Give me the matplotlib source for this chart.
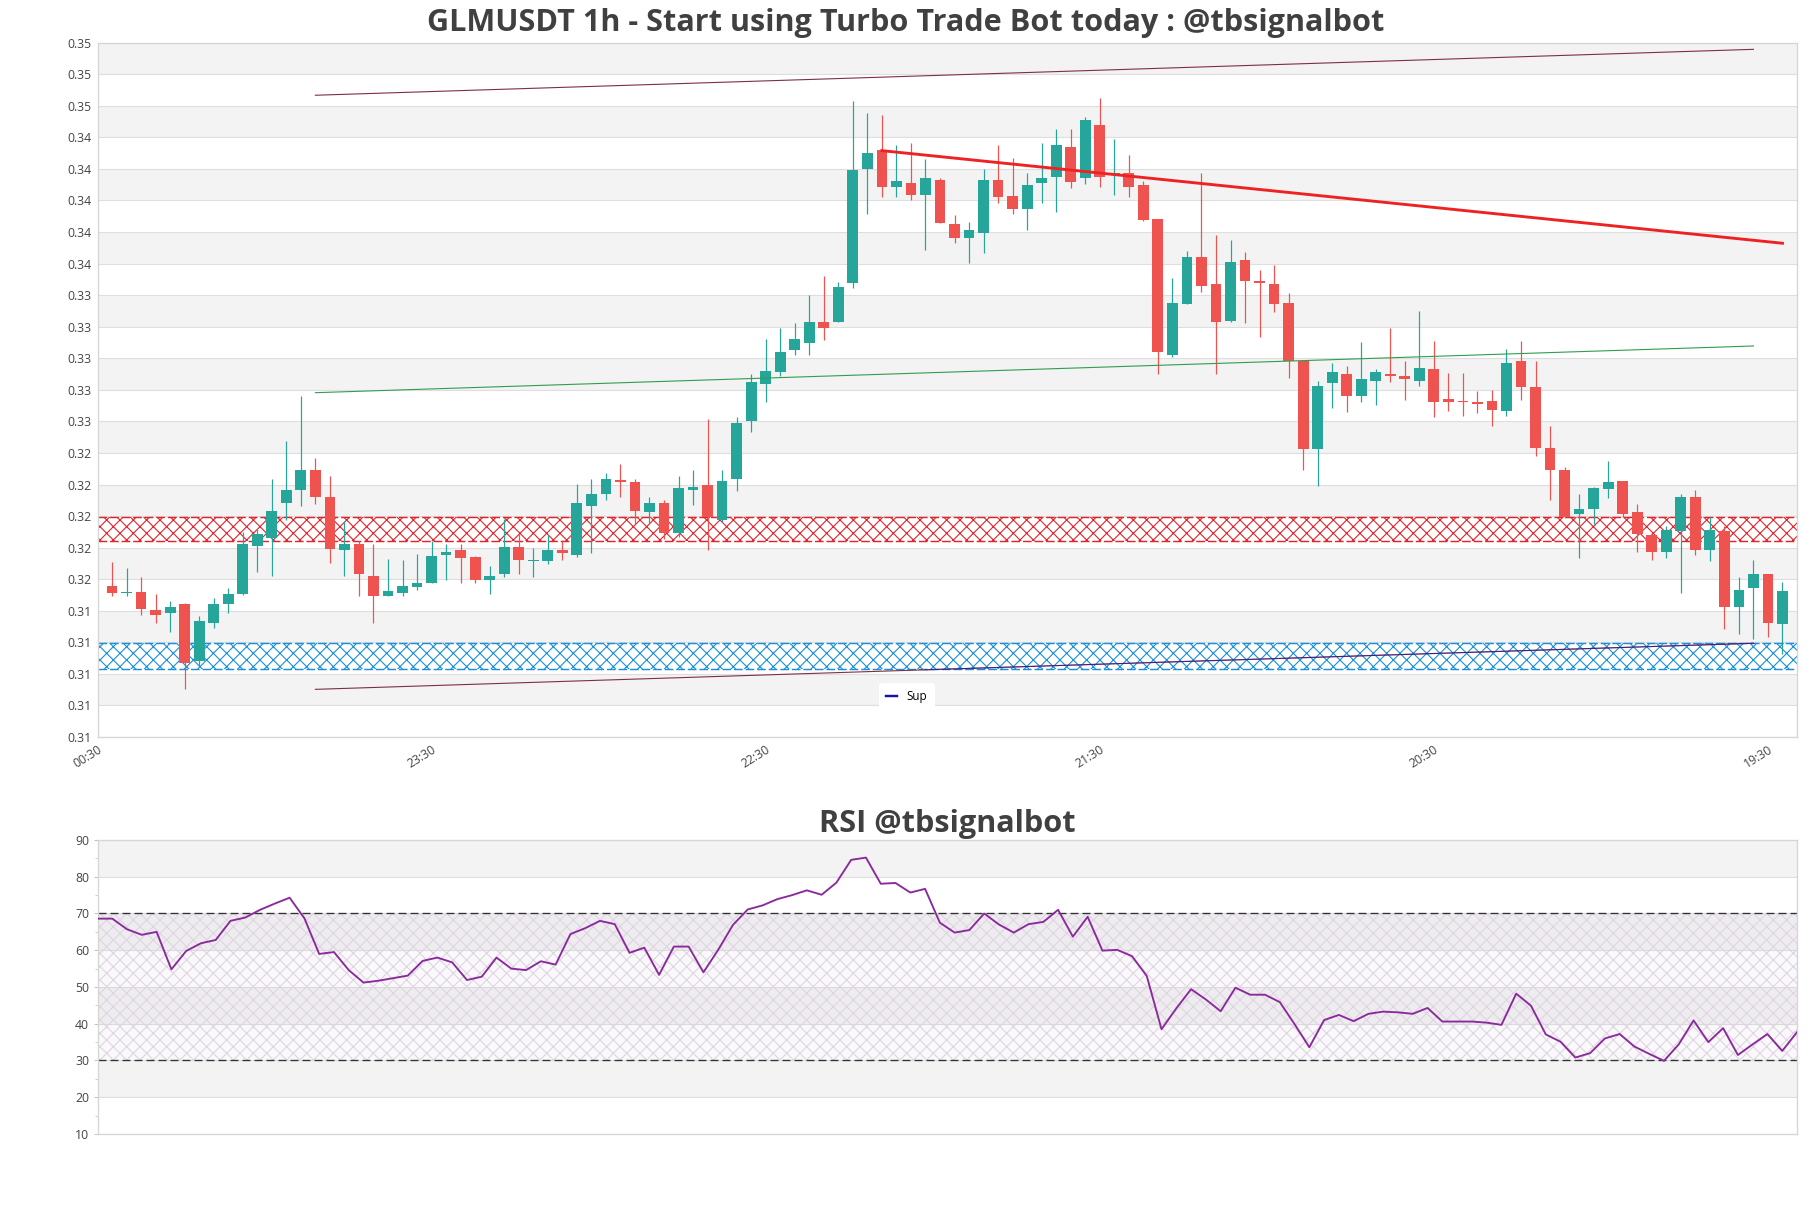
import matplotlib
matplotlib.use("Agg")
import matplotlib.pyplot as plt
from matplotlib.lines import Line2D
import numpy as np

plt.rcParams['font.family'] = ['Open Sans', 'DejaVu Sans']

# ---------------- data ----------------
opens = [0.31554, 0.31512, 0.31516, 0.31406, 0.31385, 0.31446, 0.31081, 0.31321, 0.31442, 0.31505,
         0.31809, 0.31860, 0.32082, 0.32164, 0.32295, 0.32124, 0.31784, 0.31826, 0.31623, 0.31493,
         0.31512, 0.31550, 0.31575, 0.31752, 0.31786, 0.31738, 0.31594, 0.31632, 0.31807, 0.31714,
         0.31714, 0.31788, 0.31752, 0.32063, 0.32137, 0.32226, 0.32219, 0.32025, 0.32080, 0.31892,
         0.32166, 0.32194, 0.31976, 0.32234, 0.32602, 0.32840, 0.32916, 0.33051, 0.33100, 0.33231,
         0.33227, 0.33480, 0.34198, 0.34317, 0.34088, 0.34112, 0.34038, 0.34131, 0.33852, 0.33765,
         0.33797, 0.34131, 0.34029, 0.33949, 0.34110, 0.34148, 0.34338, 0.34141, 0.34479, 0.34160,
         0.34173, 0.34099, 0.33881, 0.33022, 0.33347, 0.33643, 0.33472, 0.33239, 0.33624, 0.33491,
         0.33472, 0.33351, 0.32986, 0.32426, 0.32842, 0.32901, 0.32758, 0.32859, 0.32901, 0.32889,
         0.32859, 0.32933, 0.32741, 0.32730, 0.32724, 0.32728, 0.32669, 0.32984, 0.32817, 0.32434,
         0.32289, 0.32012, 0.32044, 0.32171, 0.32225, 0.32027, 0.31877, 0.31771, 0.31904, 0.32124,
         0.31782, 0.31907, 0.31423, 0.31543, 0.31636, 0.31315]
highs = [0.31706, 0.31672, 0.31617, 0.31507, 0.31465, 0.31450, 0.31364, 0.31482, 0.31545, 0.31898,
         0.31917, 0.32238, 0.32479, 0.32764, 0.32365, 0.32257, 0.31966, 0.31839, 0.31826, 0.31725,
         0.31719, 0.31757, 0.31839, 0.31826, 0.31826, 0.31744, 0.31685, 0.31983, 0.31888, 0.31795,
         0.31877, 0.31849, 0.32206, 0.32238, 0.32270, 0.32327, 0.32236, 0.32118, 0.32099, 0.32257,
         0.32295, 0.32616, 0.32289, 0.32627, 0.32899, 0.33121, 0.33195, 0.33225, 0.33400, 0.33522,
         0.33482, 0.34631, 0.34557, 0.34543, 0.34352, 0.34365, 0.34264, 0.34143, 0.33909, 0.33862,
         0.34198, 0.34352, 0.34268, 0.34177, 0.34363, 0.34452, 0.34452, 0.34528, 0.34648, 0.34390,
         0.34289, 0.34126, 0.33881, 0.33508, 0.33681, 0.34173, 0.33784, 0.33750, 0.33674, 0.33560,
         0.33592, 0.33413, 0.32986, 0.32853, 0.32973, 0.32952, 0.33104, 0.32935, 0.33195, 0.32984,
         0.33301, 0.33111, 0.32906, 0.32906, 0.32794, 0.32800, 0.33058, 0.33111, 0.32984, 0.32574,
         0.32310, 0.32137, 0.32187, 0.32346, 0.32225, 0.32078, 0.31877, 0.31938, 0.32137, 0.32166,
         0.31993, 0.31938, 0.31617, 0.31723, 0.31636, 0.31585]
lows = [0.31491, 0.31491, 0.31372, 0.31321, 0.31264, 0.30903, 0.31047, 0.31292, 0.31385, 0.31497,
        0.31645, 0.31619, 0.31976, 0.32063, 0.32075, 0.31702, 0.31619, 0.31493, 0.31321, 0.31493,
        0.31495, 0.31533, 0.31575, 0.31592, 0.31575, 0.31575, 0.31505, 0.31613, 0.31632, 0.31613,
        0.31695, 0.31719, 0.31740, 0.31765, 0.32099, 0.32120, 0.31951, 0.31947, 0.31856, 0.31866,
        0.32073, 0.31782, 0.31961, 0.32162, 0.32536, 0.32720, 0.32885, 0.33018, 0.33018, 0.33117,
        0.33227, 0.33444, 0.33915, 0.34019, 0.34019, 0.34004, 0.33687, 0.33860, 0.33729, 0.33603,
        0.33670, 0.33983, 0.33915, 0.33814, 0.33987, 0.33930, 0.34078, 0.34105, 0.34088, 0.34038,
        0.34025, 0.33867, 0.32899, 0.33011, 0.33347, 0.33417, 0.32899, 0.33227, 0.33223, 0.33138,
        0.33296, 0.32878, 0.32293, 0.32192, 0.32688, 0.32657, 0.32726, 0.32707, 0.32847, 0.32737,
        0.32825, 0.32625, 0.32667, 0.32635, 0.32652, 0.32574, 0.32635, 0.32737, 0.32382, 0.32103,
        0.31990, 0.31733, 0.31947, 0.32116, 0.31993, 0.31771, 0.31723, 0.31735, 0.31514, 0.31752,
        0.31714, 0.31283, 0.31250, 0.31220, 0.31233, 0.31127]
closes = [0.31512, 0.31516, 0.31410, 0.31372, 0.31425, 0.31072, 0.31338, 0.31446, 0.31509, 0.31826,
          0.31888, 0.32035, 0.32168, 0.32295, 0.32120, 0.31790, 0.31826, 0.31632, 0.31493, 0.31526,
          0.31554, 0.31579, 0.31744, 0.31774, 0.31733, 0.31594, 0.31623, 0.31807, 0.31719, 0.31719,
          0.31788, 0.31765, 0.32080, 0.32137, 0.32236, 0.32219, 0.32031, 0.32086, 0.31892, 0.32175,
          0.32185, 0.31995, 0.32225, 0.32587, 0.32851, 0.32920, 0.33041, 0.33123, 0.33231, 0.33195,
          0.33453, 0.34194, 0.34300, 0.34088, 0.34122, 0.34038, 0.34143, 0.33860, 0.33765, 0.33814,
          0.34131, 0.34021, 0.33949, 0.34097, 0.34143, 0.34352, 0.34120, 0.34509, 0.34148, 0.34173,
          0.34088, 0.33877, 0.33037, 0.33349, 0.33643, 0.33455, 0.33227, 0.33611, 0.33487, 0.33480,
          0.33347, 0.32984, 0.32426, 0.32827, 0.32914, 0.32764, 0.32870, 0.32914, 0.32885, 0.32868,
          0.32937, 0.32726, 0.32720, 0.32722, 0.32711, 0.32673, 0.32973, 0.32815, 0.32431, 0.32293,
          0.31997, 0.32048, 0.32175, 0.32219, 0.32012, 0.31885, 0.31771, 0.31909, 0.32124, 0.31782,
          0.31913, 0.31423, 0.31533, 0.31636, 0.31321, 0.31528]

rsi = [68.6, 68.6, 65.7, 64.2, 65.0, 54.8, 59.8, 61.9, 62.8, 68.0,
       68.9, 71.0, 72.7, 74.3, 68.7, 59.0, 59.5, 54.6, 51.2, 51.7,
       52.4, 53.1, 57.1, 58.0, 56.7, 51.9, 52.8, 58.0, 55.0, 54.6,
       57.0, 56.1, 64.4, 66.0, 68.0, 67.1, 59.3, 60.7, 53.3, 61.0,
       61.0, 54.0, 60.1, 66.9, 71.1, 72.2, 73.9, 75.0, 76.3, 75.1,
       78.4, 84.6, 85.2, 78.1, 78.3, 75.7, 76.7, 67.5, 64.8, 65.5,
       70.0, 67.0, 64.8, 67.1, 67.7, 71.0, 63.7, 69.1, 59.9, 60.1,
       58.4, 53.0, 38.5, 44.2, 49.4, 46.6, 43.4, 49.8, 47.9, 47.9,
       45.9, 39.9, 33.6, 41.0, 42.4, 40.7, 42.7, 43.3, 43.1, 42.7,
       44.3, 40.6, 40.6, 40.6, 40.3, 39.7, 48.2, 44.9, 37.1, 35.1,
       30.8, 32.0, 36.0, 37.2, 33.8, 31.8, 29.9, 34.4, 40.9, 35.0,
       38.8, 31.5, 34.4, 37.2, 32.6, 37.7]

xtick_pos = [-1, 22, 45, 68, 91, 114]
xtick_labels = ["00:30", "23:30", "22:30", "21:30", "20:30", "19:30"]

# trend lines: (x0, y0, x1, y1)
upper_channel = (14, 0.34667, 113, 0.34958)
lower_channel = (14, 0.30902, 113, 0.31194)
green_line = (14, 0.32782, 113, 0.33078)
red_line = (53, 0.34316, 115, 0.33729)
sup_line = (56, 0.31026, 113, 0.31194)

resistance_zone = (0.31839, 0.31995)
support_zone = (0.31034, 0.31197)

ytick_vals = [round(0.306 + 0.002 * k, 3) for k in range(23)]
rsi_ticks = [10, 20, 30, 40, 50, 60, 70, 80, 90]

# ---------------- style ----------------
GREEN = '#26a69a'
RED = '#ef5350'
BAND = '#f3f3f3'
GRID = '#dedede'
SPINE = '#d6d6d6'
TXT = '#444444'

DPI = 80
fig = plt.figure(figsize=(1811 / DPI, 1208 / DPI), dpi=DPI)
ax = fig.add_axes([0.05384, 0.38990, 0.93843, 0.57475])
ax2 = fig.add_axes([0.05384, 0.06126, 0.93843, 0.24338])

n = len(opens)
x = np.arange(n)

# ----- main axes -----
ax.set_xlim(-1, n)
ax.set_ylim(ytick_vals[0], ytick_vals[-1])
for k in range(len(ytick_vals) - 1):
    if (len(ytick_vals) - 2 - k) % 2 == 0:
        ax.axhspan(ytick_vals[k], ytick_vals[k + 1], color=BAND, zorder=0, lw=0)
for v in ytick_vals:
    ax.axhline(v, color=GRID, lw=1.0, zorder=0.5)

o = np.array(opens); c = np.array(closes); h = np.array(highs); l = np.array(lows)
up = c >= o
cols = np.where(up, GREEN, RED)
ax.vlines(x, l, h, colors=cols, lw=1.1, zorder=3)
bottoms = np.minimum(o, c)
heights = np.maximum(np.abs(c - o), 0.00004)
ax.bar(x, heights, bottom=bottoms, width=0.74, color=cols, zorder=4, lw=0)

xs = [-1, n]
# zones
ax.fill_between(xs, resistance_zone[0], resistance_zone[1], facecolor='none',
                edgecolor='#e0242a', hatch='xx', lw=0, zorder=2)
for yv in resistance_zone:
    ax.axhline(yv, color='#e0242a', lw=1.3, ls=(0, (6, 2)), zorder=2)
ax.fill_between(xs, support_zone[0], support_zone[1], facecolor='none',
                edgecolor='#1c8fd8', hatch='xx', lw=0, zorder=2)
for yv in support_zone:
    ax.axhline(yv, color='#1c8fd8', lw=1.3, ls=(0, (6, 2)), zorder=2)

def seg(p, **kw):
    ax.plot([p[0], p[2]], [p[1], p[3]], **kw)

seg(upper_channel, color='#7d2f45', lw=1.0, zorder=5)
seg(lower_channel, color='#7d2f45', lw=1.0, zorder=5)
seg(green_line, color='#2f9e4f', lw=1.0, zorder=5)
seg(red_line, color='#ee2222', lw=2.6, zorder=6)
seg(sup_line, color='#1a12a0', lw=1.0, alpha=0.55, zorder=6)

ax.set_yticks(ytick_vals)
ax.set_yticklabels([f"{v:.2f}" for v in ytick_vals])
ax.set_xticks(xtick_pos)
ax.set_xticklabels(xtick_labels, rotation=32, ha='right', rotation_mode='anchor')
ax.tick_params(axis='both', colors=TXT, labelsize=11, length=0, pad=5)
for s in ax.spines.values():
    s.set_color(SPINE)
    s.set_linewidth(1.2)

leg = ax.legend(handles=[Line2D([], [], color='#1a12a0', lw=2.2)], labels=['Sup'],
                loc='lower center', bbox_to_anchor=(0.476, 0.03), fontsize=10.5,
                frameon=True, framealpha=1.0, edgecolor='white', facecolor='white',
                handlelength=1.0, borderpad=0.6)
leg.set_zorder(10)

fig.text(0.5, 0.981, "GLMUSDT 1h - Start using Turbo Trade Bot today : @tbsignalbot",
         ha='center', va='center', fontsize=27.6, fontweight='bold', color='#404040')

# ----- RSI axes -----
xr = np.arange(len(rsi))
ax2.set_xlim(0, len(rsi) - 1)
ax2.set_ylim(10, 90)
for k in range(len(rsi_ticks) - 1):
    if (len(rsi_ticks) - 2 - k) % 2 == 0:
        ax2.axhspan(rsi_ticks[k], rsi_ticks[k + 1], color=BAND, zorder=0, lw=0)
for v in rsi_ticks:
    ax2.axhline(v, color=GRID, lw=1.0, zorder=0.5)
ax2.fill_between([0, len(rsi) - 1], 30, 70, facecolor='#b58ac0', alpha=0.06, lw=0, zorder=1)
ax2.fill_between([0, len(rsi) - 1], 30, 70, facecolor='none', edgecolor='#ddd6e0',
                 hatch='xx', lw=0, zorder=1)
ax2.axhline(70, color='#333333', lw=1.2, ls=(0, (6, 3)), zorder=2)
ax2.axhline(30, color='#333333', lw=1.2, ls=(0, (6, 3)), zorder=2)
ax2.plot(xr, rsi, color='#8a2a9c', lw=1.7, zorder=3)
ax2.set_yticks(rsi_ticks)
ax2.set_yticks(np.arange(15, 90, 10), minor=True)
ax2.set_xticks([])
ax2.tick_params(axis='y', which='major', colors=TXT, labelsize=11, length=4, color='#bbbbbb')
ax2.tick_params(axis='y', which='minor', length=2.5, color='#bbbbbb')
for s in ax2.spines.values():
    s.set_color(SPINE)
    s.set_linewidth(1.2)
ax2.set_title("RSI @tbsignalbot", fontsize=27.6, fontweight='bold', color='#404040', pad=7)

fig.savefig("out.png", dpi=DPI, facecolor='white')
